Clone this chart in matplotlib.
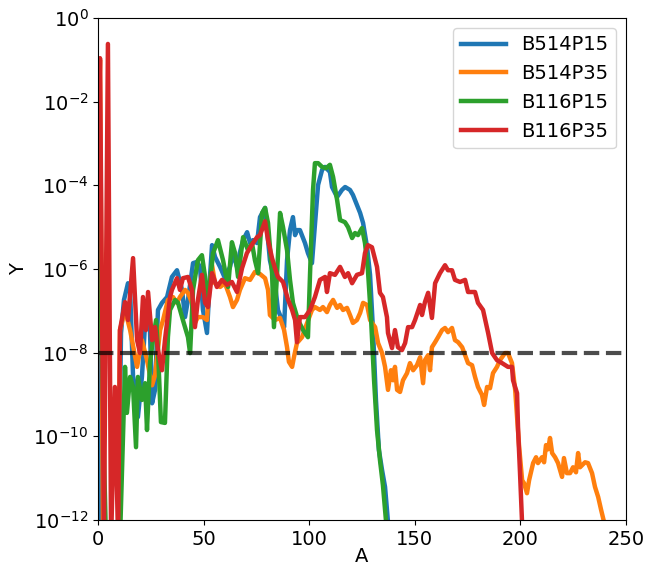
import numpy as np
import matplotlib
matplotlib.use("Agg")
import matplotlib.pyplot as plt

# Each series: A values and log10(Y) values
b514p15_a = [0, 0.7, 1.4, 9.5, 10.9, 12.3, 14.2, 15.2, 16.6, 18.0, 18.9, 20.8, 22.3, 23.7,
             24.6, 25.6, 27.0, 28.4, 30.3, 32.7, 35.0, 37.4, 39.8, 41.2, 42.6, 45.0, 46.9,
             48.3, 49.7, 51.6, 53.0, 54.0, 55.4, 57.8, 60.1, 62.5, 63.9, 65.8, 67.2, 68.7,
             70.6, 72.0, 73.4, 75.3, 76.7, 79.1, 80.5, 81.4, 83.8, 85.2, 87.1, 88.1, 89.5,
             90.9, 92.3, 93.3, 94.2, 95.6, 98.0, 99.4, 101.3, 102.7, 104.2, 106.1, 107.5,
             109.8, 110.8, 113.2, 115.5, 117.0, 119.3, 120.7, 122.6, 124.1, 125.5, 127.4,
             128.8, 130.2, 131.6, 133.0, 134.5, 135.9, 137.3]
b514p15_logy = [-3.0, -5.55, -12.5, -12.5, -7.53, -6.74, -6.34, -6.50, -8.58, -8.89, -9.54,
                -8.58, -7.29, -6.74, -7.46, -9.21, -8.89, -6.98, -6.81, -6.67, -6.19, -6.03,
                -6.50, -7.15, -6.74, -5.86, -5.83, -5.95, -6.98, -7.53, -6.19, -5.43, -5.71,
                -5.95, -6.22, -5.95, -5.62, -5.95, -5.60, -5.31, -5.12, -5.38, -5.31, -5.38,
                -4.76, -4.54, -5.31, -5.79, -6.34, -6.98, -7.22, -7.39, -5.79, -5.07, -4.76,
                -5.19, -5.07, -5.07, -5.38, -5.62, -5.86, -4.95, -3.99, -3.63, -3.56, -3.68,
                -4.04, -4.28, -4.11, -4.04, -4.11, -4.23, -4.47, -4.66, -4.90, -5.48, -6.14,
                -7.46, -9.13, -10.33, -10.81, -11.21, -12.05]

b514p35_a = [0, 0.95, 2.4, 9.5, 10.4, 12.8, 15.2, 18.5, 20.8, 23.2, 25.6, 27.0, 29.4, 30.8,
             33.1, 35.5, 37.4, 38.8, 41.2, 42.6, 44.5, 45.9, 47.3, 49.7, 51.6, 52.1, 54.0,
             55.4, 57.8, 60.1, 62.5, 63.9, 65.8, 67.2, 69.6, 72.0, 74.3, 76.7, 79.1, 80.5,
             81.4, 83.8, 86.2, 88.1, 89.5, 90.4, 91.9, 92.8, 94.2, 96.6, 99.0, 101.3, 102.7,
             105.1, 106.5, 108.4, 109.8, 111.3, 113.2, 114.6, 116.0, 117.9, 119.3, 120.7,
             122.6, 124.1, 125.5, 127.4, 128.8, 131.2, 132.6, 134.5, 135.9, 137.3, 138.7,
             139.7, 140.6, 141.6, 143.0, 144.4, 146.3, 147.7, 149.2, 151.0, 152.5, 153.9,
             154.8, 156.3, 157.2, 158.1, 159.6, 161.0, 162.9, 164.3, 165.7, 167.6, 169.0,
             170.5, 172.4, 173.8, 175.2, 177.1, 178.5, 179.9, 181.8, 182.8, 184.2, 185.6,
             187.0, 188.9, 190.3, 192.7, 194.1, 196.0, 197.5, 198.4, 199.4, 200.8, 201.7,
             203.1, 204.1, 206.0, 207.4, 208.3, 210.2, 211.2, 212.1, 213.1, 214.0, 215.0,
             216.4, 217.8, 219.7, 220.6, 222.0, 223.5, 224.9, 226.3, 227.3, 228.2, 230.6,
             232.0, 233.9, 235.3, 236.8, 238.2, 239.6]
b514p35_logy = [-4.0, -1.0, -12.5, -12.5, -7.46, -6.98, -7.46, -8.34, -7.70, -8.18, -8.78,
                -8.54, -7.46, -7.22, -6.74, -6.67, -6.81, -6.67, -6.50, -6.57, -6.81, -7.29,
                -7.15, -7.15, -7.22, -6.74, -5.91, -6.34, -6.43, -6.34, -6.67, -6.91, -6.74,
                -6.50, -6.22, -6.26, -6.07, -6.12, -6.22, -6.50, -7.10, -7.22, -7.17, -7.46,
                -7.87, -8.22, -8.34, -8.10, -7.77, -7.63, -7.29, -6.98, -6.91, -6.98, -6.91,
                -7.03, -6.86, -6.74, -6.93, -6.86, -6.98, -6.93, -7.10, -7.29, -7.22, -7.05,
                -6.81, -6.86, -7.22, -7.39, -7.77, -8.01, -8.34, -8.89, -8.42, -8.66, -8.34,
                -8.89, -8.94, -8.66, -8.49, -8.25, -8.42, -8.30, -8.11, -8.73, -8.18, -8.06,
                -8.42, -7.87, -7.75, -7.63, -7.46, -7.41, -7.51, -7.41, -7.70, -7.75, -7.87,
                -8.06, -8.25, -8.30, -8.58, -8.82, -9.01, -9.25, -8.82, -8.85, -8.49, -8.34,
                -8.18, -8.01, -8.01, -8.25, -8.89, -9.54, -10.26, -11.05, -11.12, -11.36,
                -11.05, -10.64, -10.50, -10.64, -10.50, -10.62, -10.21, -10.31, -10.04,
                -10.40, -10.50, -10.64, -10.97, -10.52, -10.88, -10.88, -10.74, -10.86,
                -10.40, -10.74, -10.62, -10.64, -10.88, -11.21, -11.45, -11.76, -12.05]

b116p15_a = [0, 1.4, 2.8, 3.8, 10.4, 12.8, 13.7, 15.2, 16.6, 18.0, 18.9, 20.8, 22.3, 23.2,
             24.6, 26.0, 27.5, 28.4, 29.8, 31.7, 33.1, 34.1, 36.5, 37.9, 40.2, 42.6, 43.6,
             45.0, 47.3, 49.2, 50.7, 52.1, 54.5, 56.8, 59.2, 61.6, 63.4, 64.9, 66.3, 68.7,
             71.0, 72.9, 74.3, 75.8, 77.7, 79.1, 80.5, 82.4, 83.3, 84.8, 86.2, 87.6, 89.5,
             90.9, 92.3, 94.7, 97.1, 99.4, 100.4, 101.8, 102.7, 104.2, 106.1, 108.0, 109.8,
             111.3, 113.2, 114.6, 116.9, 118.4, 120.3, 121.7, 123.1, 125.0, 126.4, 127.8,
             129.3, 130.7, 132.1, 133.5, 134.9, 136.4]
b116p15_logy = [-2.8, -6.74, -10.40, -12.5, -12.5, -8.34, -9.44, -8.58, -8.82, -10.26,
                -8.58, -9.13, -8.73, -9.85, -8.25, -7.70, -7.22, -7.94, -9.66, -9.68, -7.63,
                -6.98, -6.74, -6.81, -7.22, -7.63, -8.01, -6.50, -5.79, -5.67, -6.19, -6.74,
                -5.62, -5.31, -5.79, -6.43, -5.36, -5.62, -6.19, -5.24, -5.55, -5.38, -5.79,
                -6.10, -4.66, -4.54, -4.90, -6.10, -7.39, -6.10, -4.66, -5.00, -5.55, -6.26,
                -6.81, -7.22, -7.46, -7.63, -6.10, -4.11, -3.47, -3.47, -3.56, -3.59, -3.51,
                -3.80, -4.35, -4.83, -4.88, -5.00, -5.26, -5.14, -5.19, -5.02, -5.38, -6.03,
                -7.22, -8.66, -9.85, -10.57, -11.17, -12.05]

b116p35_a = [0, 0.95, 2.8, 4.7, 6.2, 8.0, 9.5, 10.4, 12.8, 14.2, 16.6, 18.5, 19.9, 21.3,
             22.7, 23.7, 25.6, 27.0, 28.4, 30.3, 31.7, 34.1, 35.0, 37.4, 38.8, 40.2, 42.6,
             44.5, 45.9, 47.3, 49.2, 50.7, 52.1, 54.0, 56.3, 58.7, 61.1, 63.4, 65.8, 68.2,
             70.5, 73.4, 75.3, 76.7, 79.1, 80.5, 82.4, 83.8, 85.2, 87.6, 90.0, 91.9, 93.3,
             94.2, 95.6, 98.0, 100.4, 102.7, 105.1, 107.5, 108.4, 109.8, 112.2, 114.6,
             116.9, 118.4, 120.3, 122.6, 125.0, 126.4, 127.8, 129.7, 132.1, 133.5, 134.9,
             136.8, 137.3, 139.2, 140.6, 142.0, 143.9, 145.4, 146.8, 148.7, 150.1, 152.5,
             153.4, 154.8, 156.3, 158.1, 159.6, 161.9, 164.3, 165.7, 167.6, 169.0, 171.4,
             173.8, 175.2, 178.5, 179.9, 182.3, 184.7, 186.6, 188.9, 191.3, 194.1, 196.0,
             196.5, 198.4, 198.9, 199.8, 200.8]
b116p35_logy = [-4.0, -0.96, -12.5, -0.62, -12.5, -8.82, -12.5, -7.46, -6.79, -7.22, -5.74,
                -7.70, -8.01, -6.67, -7.46, -6.55, -7.70, -7.39, -7.94, -8.42, -7.70, -6.67,
                -6.50, -6.22, -6.50, -6.22, -6.19, -6.50, -7.39, -6.74, -6.14, -6.81, -6.91,
                -6.10, -6.43, -6.26, -6.38, -6.31, -6.55, -5.98, -5.62, -5.38, -5.24, -5.19,
                -4.86, -5.31, -5.74, -5.98, -6.19, -6.31, -6.74, -6.98, -7.22, -7.75, -7.15,
                -7.15, -6.98, -6.67, -6.26, -6.19, -6.55, -6.10, -6.14, -5.95, -6.19, -6.10,
                -6.34, -6.14, -6.10, -5.62, -5.43, -5.48, -5.95, -6.57, -6.67, -7.15, -7.53,
                -7.89, -7.46, -7.87, -7.94, -7.77, -7.39, -7.39, -7.22, -6.86, -7.10, -6.79,
                -6.57, -7.17, -6.34, -6.10, -5.91, -6.03, -6.03, -6.26, -6.31, -6.26, -6.55,
                -6.55, -6.81, -6.98, -7.53, -8.01, -8.18, -8.25, -8.34, -8.34, -8.66, -8.97,
                -9.85, -10.88, -12.1]

series = [
    ("B514P15", b514p15_a, b514p15_logy, "#1f77b4"),
    ("B514P35", b514p35_a, b514p35_logy, "#ff7f0e"),
    ("B116P15", b116p15_a, b116p15_logy, "#2ca02c"),
    ("B116P35", b116p35_a, b116p35_logy, "#d62728"),
]
threshold = 1e-8

fig = plt.figure(figsize=(6.59, 5.66), dpi=100)
ax = fig.add_axes([0.1487, 0.0813, 0.8013, 0.8869])

for label, a, logy, color in series:
    ax.plot(a, 10.0 ** np.array(logy), color=color, linewidth=3.2, label=label)

ax.axhline(threshold, color="black", alpha=0.7, linestyle="--", linewidth=3)

ax.set_yscale("log")
ax.set_xlim(0, 250)
ax.set_ylim(1e-12, 1e0)
ax.set_yticks([10.0 ** k for k in range(-12, 1, 2)])
ax.minorticks_off()
ax.tick_params(labelsize=14)
ax.set_xlabel("A", fontsize=14, labelpad=-1.5)
ax.set_ylabel("Y", fontsize=14)
ax.legend(fontsize=14, loc="upper right", handlelength=2.3)

fig.savefig("out.png", dpi=100)
